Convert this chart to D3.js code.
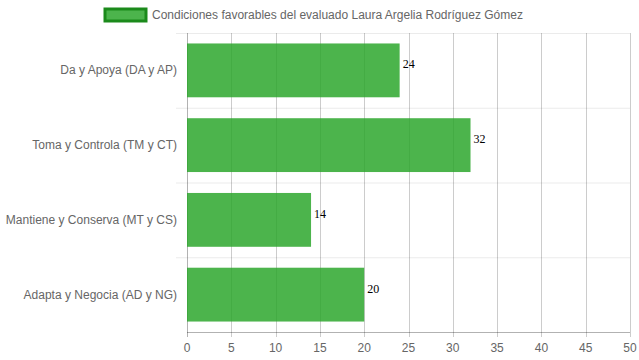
<!DOCTYPE html>
<html><head><meta charset="utf-8">
<script src="https://cdn.jsdelivr.net/npm/d3@7"></script>
<style>body{margin:0;background:#fff}svg{display:block}</style>
</head><body><svg id="c" width="639" height="360"></svg>
<script>
const categories = ["Da y Apoya (DA y AP)", "Toma y Controla (TM y CT)", "Mantiene y Conserva (MT y CS)", "Adapta y Negocia (AD y NG)"];
const values = [24, 32, 14, 20];
const xTicks = [0, 5, 10, 15, 20, 25, 30, 35, 40, 45, 50];
const seriesName = "Condiciones favorables del evaluado Laura Argelia Rodríguez Gómez";

const svg = d3.select("#c");
const font = "'Liberation Sans', Arial, Helvetica, sans-serif";
const L = 187, R = 630, T = 33, B = 332;
const x = d3.scaleLinear().domain([0, 50]).range([L, R]);
const y = d3.scaleBand().domain(categories).range([T, B]).paddingInner(0.28).paddingOuter(0.14);
const yb = d3.scaleBand().domain(categories).range([T, B]);

// horizontal category grid lines
const hg = svg.append("g");
categories.forEach((c, i) => {
  hg.append("line").attr("x1", L - 11).attr("x2", R).attr("y1", yb(c) + 0.5).attr("y2", yb(c) + 0.5)
    .attr("stroke", "rgba(0,0,0,0.08)");
});
// vertical grid
const vg = svg.append("g");
xTicks.forEach(t => {
  vg.append("line").attr("x1", Math.round(x(t)) + 0.5).attr("x2", Math.round(x(t)) + 0.5)
    .attr("y1", T).attr("y2", B + 5)
    .attr("stroke", t === 0 ? "rgba(0,0,0,0.3)" : "rgba(0,0,0,0.2)");
});
svg.append("line").attr("x1", L).attr("x2", R).attr("y1", B + 0.5).attr("y2", B + 0.5).attr("stroke", "rgba(0,0,0,0.3)");

// bars
svg.append("g").selectAll("rect").data(values).join("rect")
  .attr("x", x(0)).attr("y", (d, i) => y(categories[i]))
  .attr("width", d => x(d) - x(0)).attr("height", y.bandwidth())
  .attr("fill", "rgba(40,165,40,0.83)");

// value labels
svg.append("g").selectAll("text").data(values).join("text")
  .attr("x", d => x(d) + 3).attr("y", (d, i) => y(categories[i]) + y.bandwidth() / 2 - 2)
  .attr("font-family", "'Liberation Serif', 'Times New Roman', serif").attr("font-size", 12)
  .attr("fill", "#000").text(d => d);

// category labels
svg.append("g").selectAll("text").data(categories).join("text")
  .attr("x", 177).attr("y", c => yb(c) + yb.bandwidth() / 2 + 4)
  .attr("text-anchor", "end").attr("font-family", font).attr("font-size", 12).attr("fill", "#666")
  .text(c => c);

// x tick labels
svg.append("g").selectAll("text").data(xTicks).join("text")
  .attr("x", t => x(t)).attr("y", 352).attr("text-anchor", "middle")
  .attr("font-family", font).attr("font-size", 12).attr("fill", "#666").text(t => t);

// legend
svg.append("rect").attr("x", 105).attr("y", 9).attr("width", 41).attr("height", 12)
  .attr("fill", "rgba(40,165,40,0.83)").attr("stroke", "#1b8a1b").attr("stroke-width", 3);
svg.append("text").attr("x", 152).attr("y", 19).attr("font-family", font).attr("font-size", 12)
  .attr("fill", "#666").text(seriesName);
</script></body></html>
